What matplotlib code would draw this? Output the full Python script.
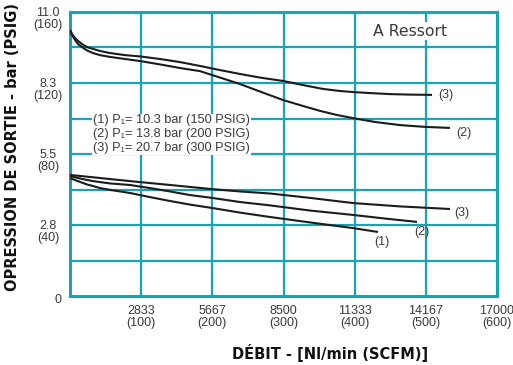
import matplotlib

matplotlib.use("Agg")
import matplotlib.pyplot as plt

plt.rcParams["font.family"] = ["Liberation Sans", "DejaVu Sans"]

TEAL = "#17a5b4"
INK = "#1c1c1c"
TEXT = "#3a3a3a"

FLOW_MAX = 17000
PRESSURE_MAX = 11.0
GRID_FLOW = [2833, 5667, 8500, 11333, 14167]
GRID_PRESSURE = [1.375, 2.75, 4.125, 5.5, 6.875, 8.25, 9.625]

X_TICKS = [2833, 5667, 8500, 11333, 14167, 17000]
X_TICK_LABELS = ["2833\n(100)", "5667\n(200)", "8500\n(300)", "11333\n(400)", "14167\n(500)", "17000\n(600)"]
Y_TICKS = [2.75, 5.5, 8.25, 11.0]
Y_TICK_LABELS = ["2.8\n(40)", "5.5\n(80)", "8.3\n(120)", "11.0\n(160)"]

# upper group of curves (flow Nl/min, outlet pressure bar)
HI3_FLOW = [0, 80, 199, 319, 478, 677, 916, 1194, 1593, 2190, 2787, 3583, 4379, 5176,
            5972, 6768, 7564, 8480, 9276, 10073, 10750, 11267, 11944, 12740, 13536, 14412]
HI3_PRESS = [10.30, 10.15, 9.99, 9.88, 9.76, 9.64, 9.57, 9.49, 9.41, 9.33, 9.28, 9.18, 9.06, 8.91,
             8.75, 8.60, 8.46, 8.33, 8.17, 8.02, 7.94, 7.90, 7.86, 7.82, 7.80, 7.79]
HI2_FLOW = [0, 80, 199, 319, 478, 677, 916, 1194, 1593, 2190, 2787, 3583, 4379, 5176,
            5972, 6768, 7564, 8480, 9276, 9953, 10630, 11267, 12143, 13138, 14134, 15129]
HI2_PRESS = [10.30, 10.11, 9.92, 9.76, 9.64, 9.51, 9.41, 9.33, 9.26, 9.18, 9.10, 8.97, 8.83, 8.71,
             8.46, 8.21, 7.92, 7.59, 7.36, 7.17, 7.01, 6.89, 6.74, 6.62, 6.55, 6.51]

# lower group of curves
LO3_FLOW = [0, 1194, 2389, 3981, 5653, 6768, 7963, 9555, 11267, 13138, 15129]
LO3_PRESS = [4.69, 4.57, 4.45, 4.30, 4.14, 4.05, 3.97, 3.80, 3.60, 3.47, 3.37]
LO2_FLOW = [0, 398, 916, 1593, 2389, 3185, 3981, 4778, 5653, 6768, 7963, 9555, 11267, 12541, 13815]
LO2_PRESS = [4.65, 4.55, 4.45, 4.36, 4.30, 4.18, 4.05, 3.91, 3.80, 3.64, 3.51, 3.31, 3.14, 3.00, 2.87]
LO1_FLOW = [0, 199, 398, 677, 916, 1194, 1593, 1991, 2389, 3185, 3981, 4778, 5653, 6768,
            7963, 9555, 11267, 12262]
LO1_PRESS = [4.57, 4.49, 4.42, 4.32, 4.26, 4.18, 4.11, 4.05, 3.99, 3.83, 3.68, 3.54, 3.41, 3.23,
             3.06, 2.85, 2.63, 2.48]

CURVES = [
    (HI3_FLOW, HI3_PRESS, "(3)", (6, 0), "left"),
    (HI2_FLOW, HI2_PRESS, "(2)", (6, -5), "left"),
    (LO3_FLOW, LO3_PRESS, "(3)", (4, -4), "left"),
    (LO2_FLOW, LO2_PRESS, "(2)", (5, -10), "center"),
    (LO1_FLOW, LO1_PRESS, "(1)", (4, -10), "center"),
]

LEGEND_LINES = [
    "(1) P\u2081= 10.3 bar (150 PSIG)",
    "(2) P\u2081= 13.8 bar (200 PSIG)",
    "(3) P\u2081= 20.7 bar (300 PSIG)",
]

fig = plt.figure(figsize=(5.13, 3.65), dpi=100)
ax = fig.add_axes([70 / 513, 69 / 365, 427 / 513, 284 / 365])
ax.set_xlim(0, FLOW_MAX)
ax.set_ylim(0, PRESSURE_MAX)

for x in GRID_FLOW:
    ax.axvline(x, color=TEAL, lw=1.6, zorder=1)
for y in GRID_PRESSURE:
    ax.axhline(y, color=TEAL, lw=1.6, zorder=1)
for spine in ax.spines.values():
    spine.set_color(TEAL)
    spine.set_linewidth(2.2)
    spine.set_zorder(2)

ax.set_xticks([])
ax.set_yticks([])

for x, label in zip(X_TICKS, X_TICK_LABELS):
    ax.annotate(label, (x, 0), xytext=(0, -9), textcoords="offset pixels",
                ha="center", va="top", fontsize=9, color=TEXT, linespacing=1.0,
                annotation_clip=False)
for y, label in zip(Y_TICKS, Y_TICK_LABELS):
    ax.annotate(label, (0, y), xytext=(-22, 5), textcoords="offset pixels",
                ha="center", va="top", fontsize=9, color=TEXT, linespacing=0.95,
                multialignment="center", annotation_clip=False)
ax.annotate("0", (0, 0), xytext=(-12, -4), textcoords="offset pixels",
            ha="center", va="center", fontsize=9, color=TEXT, annotation_clip=False)

for flow, press, tag, offset, ha in CURVES:
    ax.plot(flow, press, color=INK, lw=1.5, solid_capstyle="butt", zorder=3)
    ax.annotate(tag, (flow[-1], press[-1]), xytext=offset, textcoords="offset pixels",
                ha=ha, va="center", fontsize=9, color=TEXT, zorder=4)

ax.text(916, 6.27, "\n".join(LEGEND_LINES), ha="left", va="center", fontsize=9.2,
        color=TEXT, linespacing=1.2, zorder=4,
        bbox=dict(facecolor="white", edgecolor="none", pad=0.5))
ax.text(13550, 10.26, "A Ressort", ha="center", va="center", fontsize=11.3,
        family="DejaVu Sans", color=TEXT, zorder=4,
        bbox=dict(facecolor="white", edgecolor="none", pad=1))

fig.text(13 / 513, 1 - 147 / 365, "OPRESSION DE SORTIE - bar (PSIG)", rotation=90,
         ha="center", va="center", fontsize=10.5, fontweight="bold",
         family="DejaVu Sans", color="#111111")
fig.text(330 / 513, 12 / 365, "D\u00c9BIT - [Nl/min (SCFM)]", ha="center", va="center",
         fontsize=10.5, fontweight="bold", family="DejaVu Sans", color="#111111")

fig.savefig("out.png", dpi=100, facecolor="white")
